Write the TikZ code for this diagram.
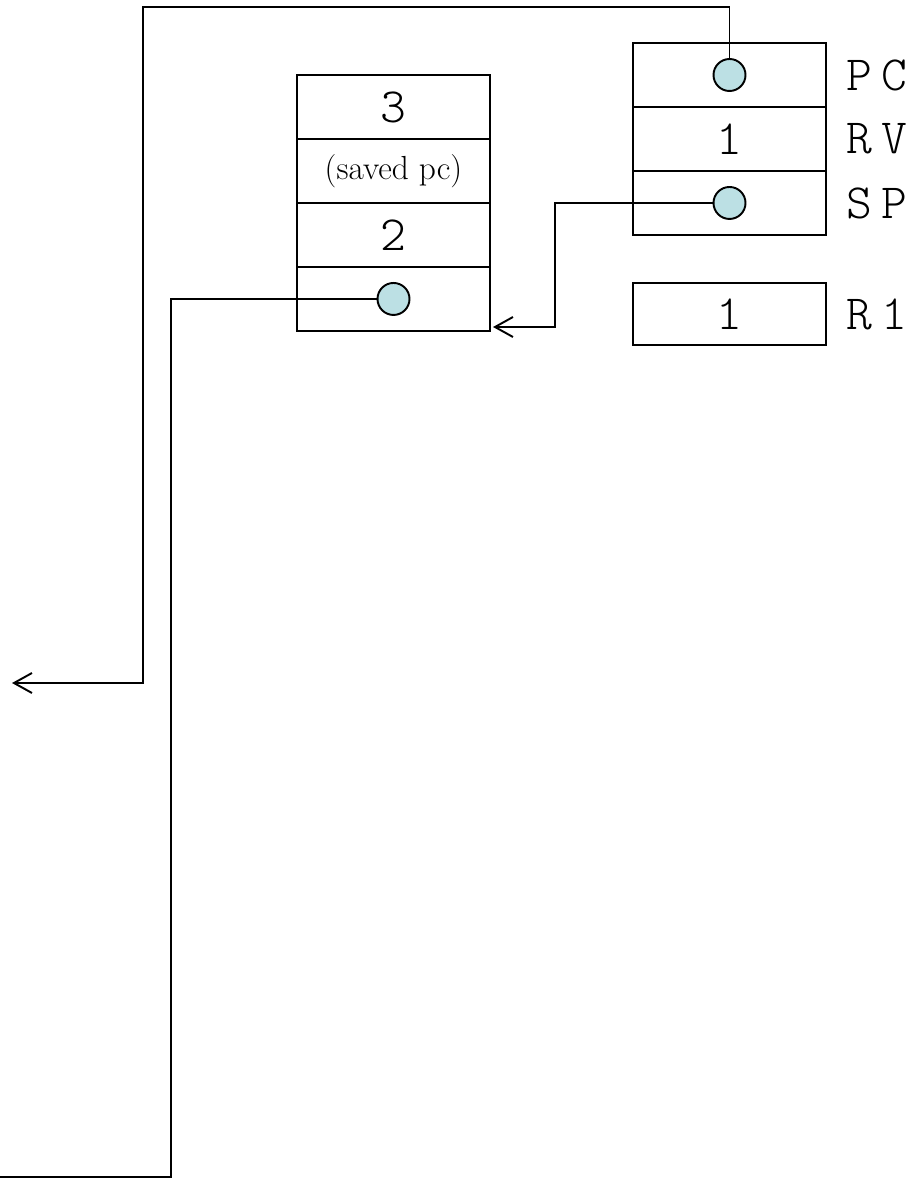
\documentclass[tikz,border=0pt]{standalone}
\usepackage{fontspec}
\usepackage{xcolor}
\usepackage{tikz}
\usetikzlibrary{positioning,arrows.meta}
\newcommand{\monofont}{\fontseries{l}\ttfamily}
\definecolor{ink}{HTML}{000000}
\definecolor{dotfill}{HTML}{BCE0E4}
\tikzset{
  cell/.style={draw=ink, line width=1.1pt, rectangle, minimum width=3.86cm, minimum height=1.28cm, inner sep=0pt, outer sep=0pt, font=\monofont\fontsize{28}{30}\selectfont},
  note/.style={font=\normalfont\fontsize{19}{21}\selectfont},
  dot/.style={circle, draw=ink, line width=1.1pt, fill=dotfill, minimum size=0.64cm, inner sep=0pt},
  lab/.style={text=ink, inner sep=0pt, anchor=west, font=\monofont\fontsize{28}{30}\selectfont},
  link/.style={draw=ink, line width=1.1pt},
  tip/.style={-{Straight Barb[length=3.6mm, width=4mm, line width=1.1pt]}},
}
% register name, letters set apart
\newcommand{\regname}[2]{#1\kern0.2em#2}
\begin{document}
\begin{tikzpicture}[x=0.02cm, y=-0.02cm]
  \useasboundingbox (0,0) rectangle (916,1179);

  % stack frame
  \node[cell] (s3) at (393.5,107) {3};
  \node[cell, below=0pt of s3] (spc) {\normalfont\fontsize{19}{21}\selectfont (saved pc)};
  \node[cell, below=0pt of spc] (s2) {2};
  \node[cell, below=0pt of s2] (s1) {};
  \node[dot] (s1dot) at (s1) {};

  % registers
  \node[cell] (pc) at (729.5,75) {};
  \node[cell, below=0pt of pc] (rv) {1};
  \node[cell, below=0pt of rv] (sp) {};
  \node[cell, minimum height=1.24cm] (r1) at (729.5,314) {1};
  \node[dot] (pcdot) at (pc) {};
  \node[dot] (spdot) at (sp) {};

  \node[lab] (pclab) at (846,75) {\regname PC};
  \node[lab] (rvlab) at (846,139) {\regname RV};
  \node[lab] (splab) at (846,203) {\regname SP};
  \node[lab] (r1lab) at (846,314) {\regname R1};

  % pointers
  \coordinate (pcend) at (12,683);
  \coordinate (spend) at (493,327);
  \coordinate (s1end) at (0,1177);
  \draw[link, tip] (pcdot.north) |- (143,7) |- (pcend);
  \draw[link, tip] (spdot.west) -| (555,327) -- (spend);
  \draw[link] (s1dot.west) -| (171,1177) -- (s1end);
\end{tikzpicture}
\end{document}
